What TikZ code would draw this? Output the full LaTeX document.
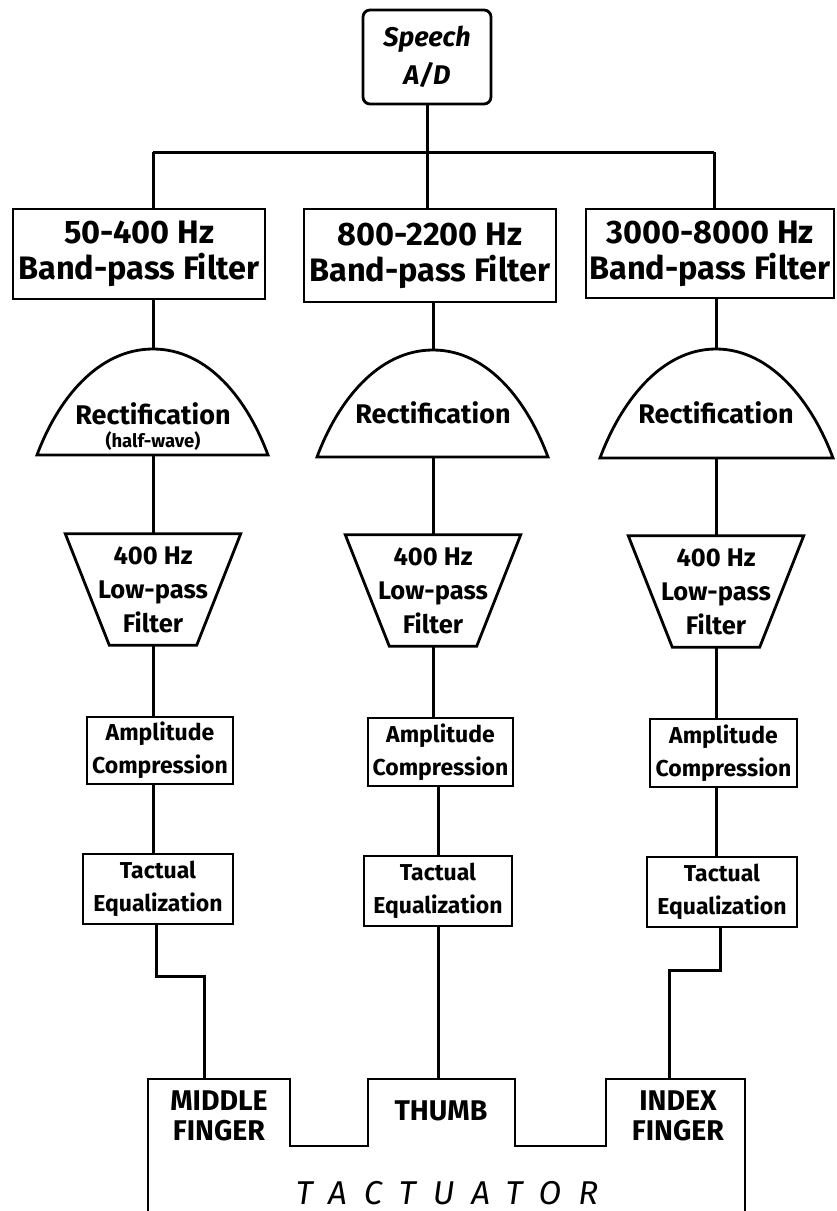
\documentclass[tikz,border=0pt]{standalone}
\usepackage{fontspec}
\setmainfont{Fira Sans}
\usetikzlibrary{calc}
\newcommand{\fsz}[2]{\fontsize{#1}{#2}\selectfont}
\tikzset{
  ln/.style={line width=3pt},
  shp/.style={line width=2.8pt, line join=miter},
  boxed/.style={draw, line width=2.8pt, inner sep=0pt, align=center},
  bandbox/.style={boxed, font=\bfseries\fsz{32.5}{36}},
  procbox/.style={boxed, font=\bfseries\fsz{23}{33}},
  recttext/.style={inner sep=0pt, anchor=base, font=\bfseries\fsz{27}{30}},
  smalltext/.style={inner sep=0pt, anchor=base, font=\bfseries\fsz{18.5}{20}},
  lowtext/.style={inner sep=0pt, align=center, font=\bfseries\fsz{25.5}{34}},
  fingertext/.style={inner sep=0pt, align=center, font=\bfseries\fsz{28.5}{30}},
  tactext/.style={inner sep=0pt, anchor=base, font=\itshape\fsz{33}{36}\addfontfeatures{LetterSpace=52}},
}
\begin{document}
\begin{tikzpicture}[x=1pt,y=-1pt]
\useasboundingbox (0,0) rectangle (836,1211);
\clip (0,0) rectangle (836,1211);

% columns
\coordinate (cL) at (153,0);
\coordinate (cM) at (433,0);
\coordinate (cR) at (716,0);
\coordinate (mf) at (204,1079);
\coordinate (th) at (438,1079);
\coordinate (ix) at (669,1079);

% Speech
\node[boxed, rounded corners=7pt, minimum width=128, minimum height=94,
      font=\bfseries\itshape\fsz{27}{38}] (sp) at (427,57) {Speech\\A/D};

% band-pass filters
\node[bandbox, minimum width=252, minimum height=90] (bp1) at (139,254) {50-400 Hz\\Band-pass Filter};
\node[bandbox, minimum width=252, minimum height=93] (bp2) at (430,255.5) {800-2200 Hz\\Band-pass Filter};
\node[bandbox, minimum width=248, minimum height=89] (bp3) at (710,253.5) {3000-8000 Hz\\Band-pass Filter};

% bus
\coordinate (busL) at (153,152);
\coordinate (busR) at (714,152);
\draw[ln] (busL) -- (busR);
\draw[ln] (sp.south) -- (sp.south |- bp2.north);
\draw[ln] (busL) -- (busL |- bp1.north);
\draw[ln] (busR) -- (busR |- bp3.north);

% rectification domes
\coordinate (r1t) at (153,349); \coordinate (r1l) at (37,455); \coordinate (r1r) at (268,455); \coordinate (r1b) at (153,455);
\coordinate (r2t) at (433,350); \coordinate (r2l) at (317,457); \coordinate (r2r) at (548,457); \coordinate (r2b) at (433,457);
\coordinate (r3t) at (716,349); \coordinate (r3l) at (600,458); \coordinate (r3r) at (833,458); \coordinate (r3b) at (716,458);
\foreach \i in {1,2,3}{
  \draw[shp] (r\i l) .. controls ($(r\i l)+(20,-54)$) and ($(r\i t)+(-56,0)$) .. (r\i t)
             .. controls ($(r\i t)+(56,0)$) and ($(r\i r)+(-20,-54)$) .. (r\i r) -- cycle;
}
\node[recttext] (rt1) at (153,424) {Rectification};
\node[smalltext] (rs1) at (153,447) {(half-wave)};
\node[recttext] (rt2) at (433,423) {Rectification};
\node[recttext] (rt3) at (716,423) {Rectification};

% low-pass trapezoids
\node[lowtext, minimum width=175, minimum height=111] (lp1) at (153,589.5) {400 Hz\\Low-pass\\Filter};
\node[lowtext, minimum width=175, minimum height=111] (lp2) at (433,590.5) {400 Hz\\Low-pass\\Filter};
\node[lowtext, minimum width=175, minimum height=111] (lp3) at (716,591.5) {400 Hz\\Low-pass\\Filter};
\foreach \n in {lp1,lp2,lp3}{
  \draw[shp] (\n.north west) -- (\n.north east) -- ($(\n.south east)+(-44,0)$) -- ($(\n.south west)+(44,0)$) -- cycle;
}

% amplitude compression
\node[procbox, minimum width=146, minimum height=67] (ac1) at (160,750.5) {Amplitude\\Compression};
\node[procbox, minimum width=145, minimum height=68] (ac2) at (440.5,752) {Amplitude\\Compression};
\node[procbox, minimum width=147, minimum height=68] (ac3) at (723.5,753) {Amplitude\\Compression};

% tactual equalization
\node[procbox, minimum width=150, minimum height=70] (te1) at (158,889) {Tactual\\Equalization};
\node[procbox, minimum width=148, minimum height=70] (te2) at (438,891) {Tactual\\Equalization};
\node[procbox, minimum width=150, minimum height=70] (te3) at (722,892) {Tactual\\Equalization};

% column connectors
\draw[ln] (cL |- bp1.south) -- (r1t);
\draw[ln] (cM |- bp2.south) -- (r2t);
\draw[ln] (cR |- bp3.south) -- (r3t);
\draw[ln] (r1b) -- (lp1.north);
\draw[ln] (r2b) -- (lp2.north);
\draw[ln] (r3b) -- (lp3.north);
\draw[ln] (lp1.south) -- (lp1.south |- ac1.north);
\draw[ln] (lp2.south) -- (lp2.south |- ac2.north);
\draw[ln] (lp3.south) -- (lp3.south |- ac3.north);
\draw[ln] (cL |- ac1.south) -- (cL |- te1.north);
\draw[ln] (th |- ac2.south) -- (th |- te2.north);
\draw[ln] (cR |- ac3.south) -- (cR |- te3.north);

% tactuator
\draw[shp] (148,1230) -- (148,1079) -- (290,1079) -- (290,1146) -- (368,1146) -- (368,1079)
  -- (515,1079) -- (515,1146) -- (606,1146) -- (606,1079) -- (745,1079) -- (745,1230);
\node[fingertext] (mft) at (219,1116) {MIDDLE\\FINGER};
\node[fingertext, anchor=base] (tht) at (441,1120) {THUMB};
\node[fingertext] (ixt) at (678,1116) {INDEX\\FINGER};
\node[tactext] (tac) at (447,1204) {TACTUATOR};

% outputs to fingers
\coordinate (jL) at (156,976);
\coordinate (jR) at (720,970);
\draw[ln] (jL |- te1.south) -- (jL) -| (mf);
\draw[ln] (te2.south) -- (th);
\draw[ln] (jR |- te3.south) -- (jR) -| (ix);
\end{tikzpicture}
\end{document}
